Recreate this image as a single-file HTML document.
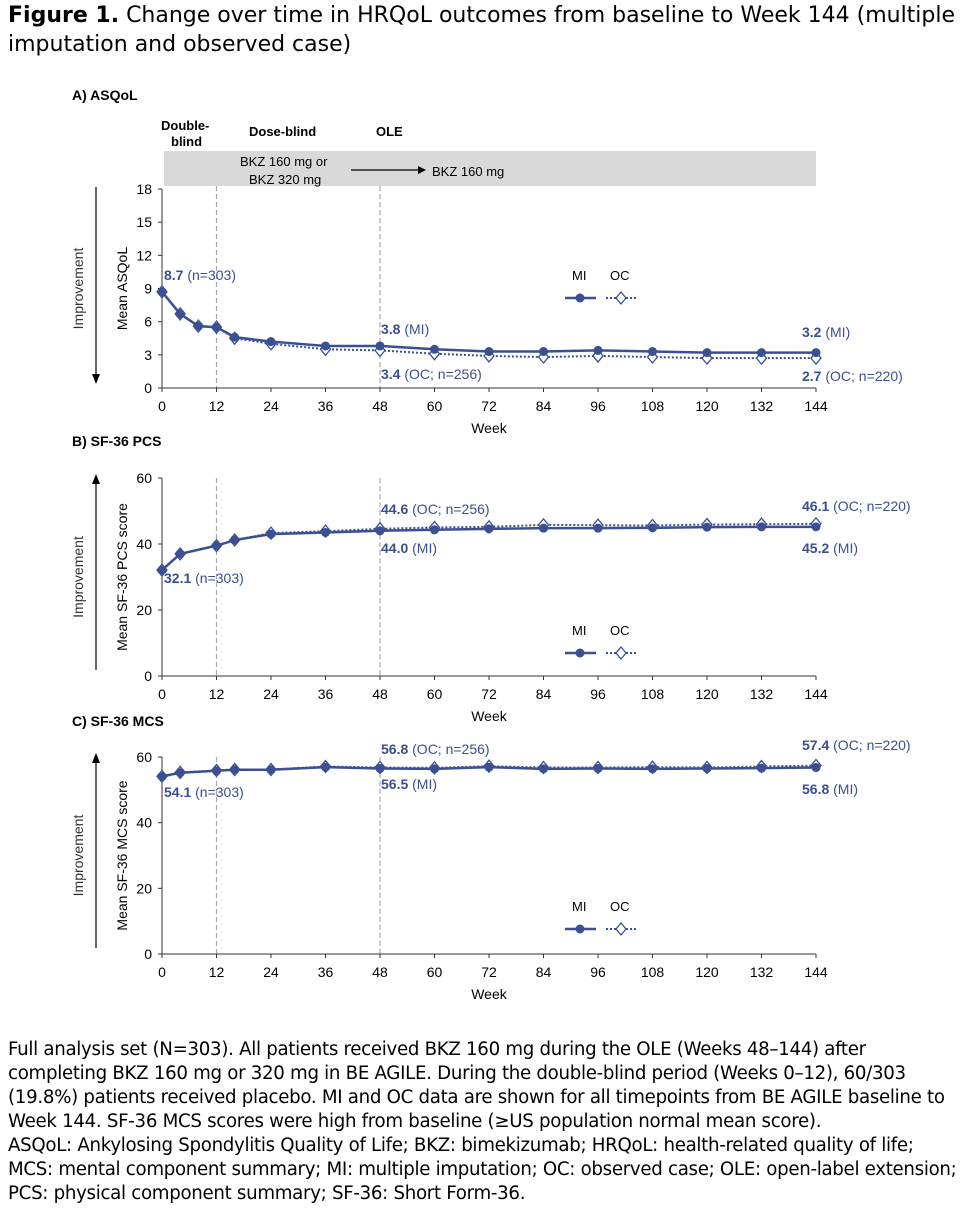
<!DOCTYPE html>
<html><head><meta charset="utf-8"><style>
body{margin:0;background:#fff;width:980px;height:1212px;overflow:hidden;position:relative;font-family:"DejaVu Sans","Liberation Sans",sans-serif;}
.t{position:absolute;left:8px;font-size:22px;color:#000;white-space:nowrap;}
.fn{position:absolute;left:8px;font-size:18.2px;line-height:24px;color:#000;white-space:nowrap;top:1038px;letter-spacing:-0.3px}
svg{position:absolute;left:0;top:0}
</style></head><body>
<div class="t" style="top:3px"><b>Figure 1.</b> Change over time in HRQoL outcomes from baseline to Week 144 (multiple</div>
<div class="t" style="top:32px">imputation and observed case)</div>
<svg id="chart" width="980" height="1212" font-family="Liberation Sans, sans-serif"></svg>
<div class="fn">Full analysis set (N=303). All patients received BKZ 160 mg during the OLE (Weeks 48–144) after<br>completing BKZ 160 mg or 320 mg in BE AGILE. During the double-blind period (Weeks 0–12), 60/303<br>(19.8%) patients received placebo. MI and OC data are shown for all timepoints from BE AGILE baseline to<br>Week 144. SF-36 MCS scores were high from baseline (≥US population normal mean score).<br>ASQoL: Ankylosing Spondylitis Quality of Life; BKZ: bimekizumab; HRQoL: health-related quality of life;<br>MCS: mental component summary; MI: multiple imputation; OC: observed case; OLE: open-label extension;<br>PCS: physical component summary; SF-36: Short Form-36.</div>
<script>
const xTicks=[0,12,24,36,48,60,72,84,96,108,120,132,144];
const weeksA=[0,4,8,12,16,24,36,48,60,72,84,96,108,120,132,144];
const asqolMI=[8.7,6.7,5.6,5.5,4.6,4.2,3.8,3.8,3.5,3.3,3.3,3.4,3.3,3.2,3.2,3.2];
const asqolOC=[8.7,6.7,5.6,5.5,4.5,4.0,3.5,3.4,3.1,2.9,2.8,2.9,2.8,2.7,2.7,2.7];
const asqolTicks=[0,3,6,9,12,15,18];
const weeksB=[0,4,12,16,24,36,48,60,72,84,96,108,120,132,144];
const pcsMI=[32.1,37.0,39.5,41.2,43.0,43.5,44.0,44.3,44.6,44.8,44.8,44.9,45.1,45.2,45.2];
const pcsOC=[32.1,37.0,39.5,41.2,43.3,43.9,44.6,45.0,45.2,45.8,45.7,45.6,45.9,46.0,46.1];
const mcsMI=[54.1,55.2,55.8,56.1,56.1,56.9,56.5,56.4,56.9,56.4,56.5,56.4,56.5,56.6,56.8];
const mcsOC=[54.1,55.3,55.9,56.2,56.2,57.1,56.8,56.7,57.2,56.8,56.8,56.9,56.8,57.1,57.4];
const sfTicks=[0,20,40,60];
const C='#3b4f91';
const svg=document.getElementById('chart');
const NS='http://www.w3.org/2000/svg';
function mk(tag,a,txt){const e=document.createElementNS(NS,tag);for(const k in a)e.setAttribute(k,a[k]);if(txt!==undefined)e.textContent=txt;svg.appendChild(e);return e;}
const X=w=>162+w*(816-162)/144;
function panel(p){
  const Y=v=>p.y0-(v-p.min)/(p.max-p.min)*(p.y0-p.y1);
  let e;
  e=mk('text',{x:72,y:p.titleY,'font-size':14,'font-weight':'bold'},p.title);
  
  [12,48].forEach(w=>{e=mk('line',{x1:X(w),x2:X(w),y1:p.dashTop,y2:p.y0,stroke:'#aaa','stroke-dasharray':'5,3','stroke-width':1.2});
    });
  e=mk('line',{x1:162,x2:162,y1:p.y1,y2:p.y0,stroke:'#333'});
  e=mk('line',{x1:162,x2:816,y1:p.y0,y2:p.y0,stroke:'#333'});
  p.yTicks.forEach(v=>{mk('line',{x1:158,x2:162,y1:Y(v),y2:Y(v),stroke:'#333'});
    e=mk('text',{x:152,y:Y(v)+5,'font-size':14,'text-anchor':'end'},v);});
  xTicks.forEach(w=>{mk('line',{x1:X(w),x2:X(w),y1:p.y0,y2:p.y0+4,stroke:'#333'});
    e=mk('text',{x:X(w),y:p.y0+23,'font-size':14,'text-anchor':'middle'},w);});
  e=mk('text',{x:489,y:p.y0+45,'font-size':14,'text-anchor':'middle'},'Week');
  const cy=(p.y0+p.y1)/2;
  e=mk('text',{x:127,y:cy,'font-size':14,'text-anchor':'middle',transform:`rotate(-90 127 ${cy})`},p.ylabel);
  e=mk('text',{x:83,y:cy,'font-size':14,'text-anchor':'middle',fill:'#333',transform:`rotate(-90 83 ${cy})`},'Improvement');
  const at=p.y1-2,ab=p.y0-6;
  e=mk('line',{x1:96,x2:96,y1:at,y2:ab,stroke:'#000','stroke-width':1.2});
  if(p.down)mk('polygon',{points:`92,${ab-8} 100,${ab-8} 96,${ab+2}`});else mk('polygon',{points:`92,${at+8} 100,${at+8} 96,${at-2}`});
  const pts=(arr)=>p.weeks.map((w,i)=>X(w)+','+Y(arr[i])).join(' ');
  e=mk('polyline',{points:pts(p.oc),fill:'none',stroke:C,'stroke-width':2,'stroke-dasharray':'2,2'});
  e=mk('polyline',{points:pts(p.mi),fill:'none',stroke:C,'stroke-width':2.5});
  p.weeks.forEach((w,i)=>{const x=X(w),y=Y(p.oc[i]);
    e=mk('polygon',{points:`${x},${y-6} ${x+5},${y} ${x},${y+6} ${x-5},${y}`,fill:'#fff',stroke:C,'stroke-width':1.3});});
  p.weeks.forEach((w,i)=>{const x=X(w),y=Y(p.mi[i]);
    e=mk('circle',{cx:x,cy:y,r:4.5,fill:C});});
  const lt=p.legY;
  e=mk('text',{x:572,y:lt,'font-size':13},'MI');
  e=mk('text',{x:610,y:lt,'font-size':13},'OC');
  mk('line',{x1:565,x2:596,y1:lt+18,y2:lt+18,stroke:C,'stroke-width':2.5});mk('circle',{cx:580,cy:lt+18,r:4.5,fill:C});
  mk('line',{x1:606,x2:636,y1:lt+18,y2:lt+18,stroke:C,'stroke-width':2,'stroke-dasharray':'2,2'});
  mk('polygon',{points:`621,${lt+12} 626,${lt+18} 621,${lt+24} 616,${lt+18}`,fill:'#fff',stroke:C,'stroke-width':1.3});
  p.ann.forEach(a=>{e=mk('text',{x:a[0],y:a[1],'font-size':14,fill:C});
    const b=document.createElementNS(NS,'tspan');b.setAttribute('font-weight','bold');b.textContent=a[2];e.appendChild(b);
    const r=document.createElementNS(NS,'tspan');r.textContent=' '+a[3];e.appendChild(r);});
}
let h;
h=mk('rect',{x:164,y:151,width:652,height:35,fill:'#d9d9d9'});
[['Double-',161,130],['blind',171,146],['Dose-blind',249,136],['OLE',376,136]].forEach(t=>{h=mk('text',{x:t[1],y:t[2],'font-size':13,'font-weight':'bold'},t[0]);});
h=mk('text',{x:240,y:166,'font-size':13},'BKZ 160 mg or');
h=mk('text',{x:249,y:184,'font-size':13},'BKZ 320 mg');
mk('line',{x1:351,x2:420,y1:170,y2:170,stroke:'#000','stroke-width':1.2});mk('polygon',{points:'418,166 426,170 418,174'});
h=mk('text',{x:432,y:176,'font-size':13},'BKZ 160 mg');

panel({id:'asqol',title:'A) ASQoL',titleY:100,y0:388,y1:189,min:0,max:18,yTicks:asqolTicks,weeks:weeksA,mi:asqolMI,oc:asqolOC,ylabel:'Mean ASQoL',down:true,dashTop:186,legY:280,
 ann:[[164,280,'8.7','(n=303)'],[381,334,'3.8','(MI)'],[381,379,'3.4','(OC; n=256)'],[802,337,'3.2','(MI)'],[802,381,'2.7','(OC; n=220)']]});
panel({id:'pcs',title:'B) SF-36 PCS',titleY:446,y0:676,y1:478,min:0,max:60,yTicks:sfTicks,weeks:weeksB,mi:pcsMI,oc:pcsOC,ylabel:'Mean SF-36 PCS score',down:false,dashTop:478,legY:635,
 ann:[[381,514,'44.6','(OC; n=256)'],[381,553,'44.0','(MI)'],[164,583,'32.1','(n=303)'],[802,511,'46.1','(OC; n=220)'],[802,553,'45.2','(MI)']]});
panel({id:'mcs',title:'C) SF-36 MCS',titleY:726,y0:954,y1:757,min:0,max:60,yTicks:sfTicks,weeks:weeksB,mi:mcsMI,oc:mcsOC,ylabel:'Mean SF-36 MCS score',down:false,dashTop:757,legY:911,
 ann:[[381,754,'56.8','(OC; n=256)'],[381,789,'56.5','(MI)'],[164,797,'54.1','(n=303)'],[802,750,'57.4','(OC; n=220)'],[802,794,'56.8','(MI)']]});
</script>
</body></html>
